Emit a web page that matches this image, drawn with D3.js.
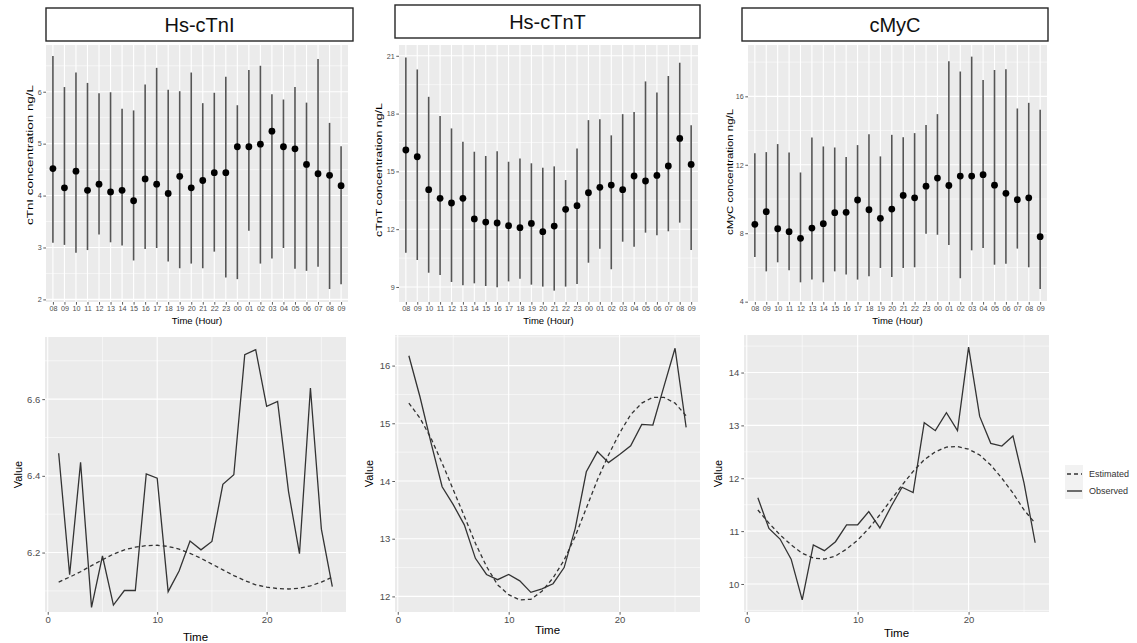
<!DOCTYPE html>
<html><head><meta charset="utf-8">
<script src="https://cdn.jsdelivr.net/npm/d3@7"></script>
<style>
html,body{margin:0;padding:0;background:#fff;}
svg{display:block;font-family:"Liberation Sans",Arial,sans-serif;}
</style></head>
<body>
<svg id="chart" width="1137" height="643"></svg>
<script>
// ---------- DATA ----------
const panelTitles = ["Hs-cTnI", "Hs-cTnT", "cMyC"];
const hours = ["08","09","10","11","12","13","14","15","16","17","18","19","20","21","22","23","00","01","02","03","04","05","06","07","08","09"];

const tniMean = [4.52,4.15,4.47,4.10,4.22,4.07,4.10,3.90,4.32,4.22,4.04,4.37,4.15,4.29,4.44,4.44,4.94,4.94,4.99,5.24,4.94,4.90,4.60,4.42,4.39,4.19];
const tniHigh = [6.69,6.09,6.37,6.17,5.97,5.99,5.67,5.64,6.14,6.46,6.04,6.01,6.37,5.78,5.98,6.29,5.74,6.42,6.50,5.95,5.85,6.09,5.79,6.63,5.40,4.95];
const tniLow  = [3.09,3.05,2.90,2.95,3.25,3.10,3.04,2.75,2.97,2.99,2.73,2.60,2.69,2.60,2.92,2.42,2.39,3.32,2.69,2.79,2.99,2.59,2.55,2.63,2.20,2.29];

const tntMean = [16.11,15.76,14.05,13.60,13.36,13.60,12.53,12.37,12.32,12.18,12.08,12.30,11.87,12.16,13.03,13.22,13.89,14.17,14.29,14.05,14.76,14.50,14.79,15.28,16.71,15.36];
const tntHigh = [20.91,20.29,18.87,17.87,17.23,16.54,16.02,15.80,16.05,15.50,15.67,15.42,15.19,15.26,14.55,16.19,17.66,17.71,16.87,17.97,18.08,19.67,19.10,19.95,20.64,17.39];
const tntLow  = [10.78,10.40,9.74,9.62,9.26,9.09,9.19,9.05,8.98,9.29,9.43,9.12,9.02,8.81,9.02,9.16,10.26,10.99,9.92,11.35,11.09,11.82,11.68,11.89,12.34,10.92];

const mycMean = [8.52,9.26,8.26,8.09,7.70,8.30,8.56,9.20,9.22,9.94,9.37,8.87,9.41,10.21,10.07,10.75,11.22,10.79,11.34,11.34,11.42,10.81,10.33,9.96,10.07,7.80];
const mycHigh = [12.68,12.74,13.21,12.72,11.55,13.60,13.07,13.01,12.45,13.15,13.79,12.49,13.75,13.61,13.85,14.32,14.96,18.05,17.45,18.32,16.96,17.54,17.58,15.29,15.62,15.21];
const mycLow  = [6.61,5.77,6.30,5.83,5.13,5.29,5.13,5.77,5.58,5.29,5.48,5.97,5.44,5.97,6.01,7.97,7.91,7.31,5.37,7.00,7.14,6.16,6.22,7.10,6.01,4.74];

const timeIdx = [1,2,3,4,5,6,7,8,9,10,11,12,13,14,15,16,17,18,19,20,21,22,23,24,25,26];
const tniObs = [6.459,6.142,6.435,6.057,6.191,6.063,6.101,6.101,6.405,6.394,6.098,6.152,6.230,6.207,6.229,6.378,6.403,6.716,6.729,6.581,6.594,6.359,6.197,6.629,6.261,6.111];
const tniEst = [6.123,6.136,6.150,6.166,6.181,6.196,6.207,6.214,6.218,6.219,6.216,6.209,6.198,6.185,6.170,6.155,6.140,6.127,6.116,6.110,6.106,6.105,6.107,6.113,6.123,6.136];
const tntObs = [16.17,15.46,14.66,13.90,13.59,13.24,12.66,12.38,12.29,12.38,12.27,12.07,12.13,12.22,12.50,13.18,14.16,14.51,14.32,14.46,14.61,14.98,14.97,15.64,16.30,14.93];
const tntEst = [15.35,15.09,14.74,14.31,13.85,13.39,12.92,12.52,12.20,12.03,11.94,11.95,12.09,12.32,12.63,13.04,13.53,14.02,14.45,14.83,15.15,15.35,15.45,15.45,15.35,15.13];
const mycObs = [11.63,11.05,10.85,10.47,9.70,10.74,10.63,10.80,11.12,11.12,11.37,11.06,11.46,11.83,11.73,13.05,12.90,13.24,12.90,14.48,13.17,12.66,12.61,12.80,11.91,10.78];
const mycEst = [11.40,11.15,10.93,10.74,10.58,10.49,10.47,10.53,10.66,10.83,11.05,11.31,11.59,11.87,12.13,12.35,12.50,12.59,12.60,12.55,12.44,12.25,12.00,11.72,11.40,11.15];

const tniTicks = [2,3,4,5,6];
const tntTicks = [9,12,15,18,21];
const mycTicks = [4,8,12,16];
const tniValTicks = [6.2,6.4,6.6];
const tntValTicks = [12,13,14,15,16];
const mycValTicks = [10,11,12,13,14];
const timeTicks = [0,10,20];
const legendLabels = ["Estimated","Observed"];

// ---------- DRAWING ----------
const svg = d3.select("#chart");
svg.append("rect").attr("width",1137).attr("height",643).attr("fill","#fff");

const BG = "#EBEBEB", GRID = "#FFFFFF", TXT = "#4D4D4D", TICK = "#333333";

function minorsOf(ticks, dom) {
  const step = ticks[1]-ticks[0];
  const out = [];
  for (let v = ticks[0]-step/2; v <= dom[1]; v += step) if (v >= dom[0]) out.push(v);
  return out;
}

// Strip titles
const strips = [
  {x0:46, x1:353, y0:8, y1:41},
  {x0:395, x1:700, y0:5, y1:38},
  {x0:742, x1:1048, y0:8, y1:41}
];
strips.forEach((s,i)=>{
  svg.append("rect").attr("x",s.x0).attr("y",s.y0).attr("width",s.x1-s.x0).attr("height",s.y1-s.y0)
    .attr("fill","#fff").attr("stroke","#262626").attr("stroke-width",1.4);
  svg.append("text").attr("x",(s.x0+s.x1)/2).attr("y",(s.y0+s.y1)/2+7)
    .attr("text-anchor","middle").attr("font-size",20).attr("fill","#111").text(panelTitles[i]);
});

// Top panels
function topPanel(c) {
  const g = svg.append("g");
  const x = d3.scalePoint().domain(d3.range(hours.length)).range([c.x0, c.x1]).padding(0.6);
  const y = d3.scaleLinear().domain(c.dom).range([c.y1, c.y0]);
  g.append("rect").attr("x",c.x0).attr("y",c.y0).attr("width",c.x1-c.x0).attr("height",c.y1-c.y0).attr("fill",BG);
  minorsOf(c.ticks, c.dom).forEach(v=>{
    g.append("line").attr("x1",c.x0).attr("x2",c.x1).attr("y1",y(v)).attr("y2",y(v)).attr("stroke",GRID).attr("stroke-width",0.55);
  });
  c.ticks.forEach(v=>{
    g.append("line").attr("x1",c.x0).attr("x2",c.x1).attr("y1",y(v)).attr("y2",y(v)).attr("stroke",GRID).attr("stroke-width",1.1);
  });
  x.domain().forEach(i=>{
    g.append("line").attr("x1",x(i)).attr("x2",x(i)).attr("y1",c.y0).attr("y2",c.y1).attr("stroke",GRID).attr("stroke-width",1.1);
  });
  // error bars
  g.selectAll(".eb").data(c.mean).enter().append("line")
    .attr("x1",(d,i)=>x(i)).attr("x2",(d,i)=>x(i))
    .attr("y1",(d,i)=>y(c.low[i])).attr("y2",(d,i)=>y(c.high[i]))
    .attr("stroke","#555").attr("stroke-width",1.6);
  g.selectAll(".pt").data(c.mean).enter().append("circle")
    .attr("cx",(d,i)=>x(i)).attr("cy",d=>y(d)).attr("r",3.4).attr("fill","#000");
  // axes
  const ya = g.append("g").attr("transform",`translate(${c.x0},0)`)
    .call(d3.axisLeft(y).tickValues(c.ticks).tickSize(2.7).tickPadding(1.5).tickFormat(d3.format("d")));
  const xa = g.append("g").attr("transform",`translate(0,${c.y1})`)
    .call(d3.axisBottom(x).tickSize(2.7).tickPadding(1.5).tickFormat(i=>hours[i]));
  [ya,xa].forEach(a=>{
    a.select(".domain").remove();
    a.selectAll(".tick line").attr("stroke",TICK).attr("stroke-width",0.8);
    a.selectAll(".tick text").attr("fill",TXT).attr("font-size",7.2).attr("font-family","Liberation Sans, Arial, sans-serif");
  });
  g.append("text").attr("x",(c.x0+c.x1)/2).attr("y",c.y1+22).attr("text-anchor","middle")
    .attr("font-size",9.5).attr("fill","#000").text("Time (Hour)");
  g.append("text").attr("transform",`translate(${c.tx},${c.ty}) rotate(-90)`).attr("text-anchor","middle")
    .attr("font-size",9).attr("fill","#000")
    .attr("textLength",c.tlen).attr("lengthAdjust","spacingAndGlyphs").text(c.label);
}

topPanel({x0:46,x1:348,y0:45,y1:302,dom:[1.95,6.90],ticks:tniTicks,mean:tniMean,low:tniLow,high:tniHigh,
  label:"cTnI concentration ng/L",tx:33,ty:155,tlen:140});
topPanel({x0:399,x1:698,y0:45,y1:302,dom:[8.22,21.56],ticks:tntTicks,mean:tntMean,low:tntLow,high:tntHigh,
  label:"cTnT concentration ng/L",tx:382,ty:170,tlen:134});
topPanel({x0:748,x1:1047,y0:45,y1:302,dom:[3.98,19.0],ticks:mycTicks,mean:mycMean,low:mycLow,high:mycHigh,
  label:"cMyC concentration ng/L",tx:733,ty:172,tlen:126});

// Bottom panels
function bottomPanel(c) {
  const g = svg.append("g");
  const x = d3.scaleLinear().domain([-0.25,27.25]).range([c.x0,c.x1]);
  const y = d3.scaleLinear().domain(c.dom).range([c.y1,c.y0]);
  g.append("rect").attr("x",c.x0).attr("y",c.y0).attr("width",c.x1-c.x0).attr("height",c.y1-c.y0).attr("fill",BG);
  minorsOf(c.ticks, c.dom).forEach(v=>{
    g.append("line").attr("x1",c.x0).attr("x2",c.x1).attr("y1",y(v)).attr("y2",y(v)).attr("stroke",GRID).attr("stroke-width",0.55);
  });
  minorsOf(timeTicks, x.domain()).forEach(v=>{
    g.append("line").attr("x1",x(v)).attr("x2",x(v)).attr("y1",c.y0).attr("y2",c.y1).attr("stroke",GRID).attr("stroke-width",0.55);
  });
  c.ticks.forEach(v=>{
    g.append("line").attr("x1",c.x0).attr("x2",c.x1).attr("y1",y(v)).attr("y2",y(v)).attr("stroke",GRID).attr("stroke-width",1.1);
  });
  timeTicks.forEach(v=>{
    g.append("line").attr("x1",x(v)).attr("x2",x(v)).attr("y1",c.y0).attr("y2",c.y1).attr("stroke",GRID).attr("stroke-width",1.1);
  });
  const line = d3.line().x((d,i)=>x(timeIdx[i])).y(d=>y(d));
  g.append("path").datum(c.est).attr("d",line).attr("fill","none").attr("stroke","#333").attr("stroke-width",1.3).attr("stroke-dasharray","4,3");
  g.append("path").datum(c.obs).attr("d",line).attr("fill","none").attr("stroke","#333").attr("stroke-width",1.3);
  const ya = g.append("g").attr("transform",`translate(${c.x0},0)`)
    .call(d3.axisLeft(y).tickValues(c.ticks).tickSize(2.7).tickPadding(2).tickFormat(c.fmt));
  const xa = g.append("g").attr("transform",`translate(0,${c.y1})`)
    .call(d3.axisBottom(x).tickValues(timeTicks).tickSize(2.7).tickPadding(2).tickFormat(d3.format("d")));
  [ya,xa].forEach(a=>{
    a.select(".domain").remove();
    a.selectAll(".tick line").attr("stroke",TICK).attr("stroke-width",0.8);
    a.selectAll(".tick text").attr("fill",TXT).attr("font-size",9.5).attr("font-family","Liberation Sans, Arial, sans-serif");
  });
  g.append("text").attr("x",(c.x0+c.x1)/2).attr("y",c.tyx).attr("text-anchor","middle")
    .attr("font-size",11.5).attr("fill","#000").text("Time");
  g.append("text").attr("transform",`translate(${c.tx},${(c.y0+c.y1)/2}) rotate(-90)`).attr("text-anchor","middle")
    .attr("font-size",11).attr("fill","#000").text("Value");
}

bottomPanel({x0:45,x1:346,y0:337,y1:612,dom:[6.045,6.762],ticks:tniValTicks,fmt:d3.format(".1f"),obs:tniObs,est:tniEst,tx:22,tyx:641});
bottomPanel({x0:395,x1:700,y0:335,y1:612,dom:[11.73,16.53],ticks:tntValTicks,fmt:d3.format("d"),obs:tntObs,est:tntEst,tx:373,tyx:634});
bottomPanel({x0:744,x1:1049,y0:335,y1:612,dom:[9.47,14.71],ticks:mycValTicks,fmt:d3.format("d"),obs:mycObs,est:mycEst,tx:722,tyx:637});

// Legend
const lg = svg.append("g");
const keyY = [474, 491];
lg.append("rect").attr("x",1065).attr("y",465).attr("width",18).attr("height",34).attr("fill","#F2F2F2");
legendLabels.forEach((lab,i)=>{
  lg.append("line").attr("x1",1067).attr("x2",1082).attr("y1",keyY[i]).attr("y2",keyY[i])
    .attr("stroke","#333").attr("stroke-width",1.4).attr("stroke-dasharray", i===0 ? "4,3" : null);
  lg.append("text").attr("x",1089).attr("y",keyY[i]+3.3).attr("font-size",9).attr("fill","#333").text(lab);
});
</script>
</body></html>
